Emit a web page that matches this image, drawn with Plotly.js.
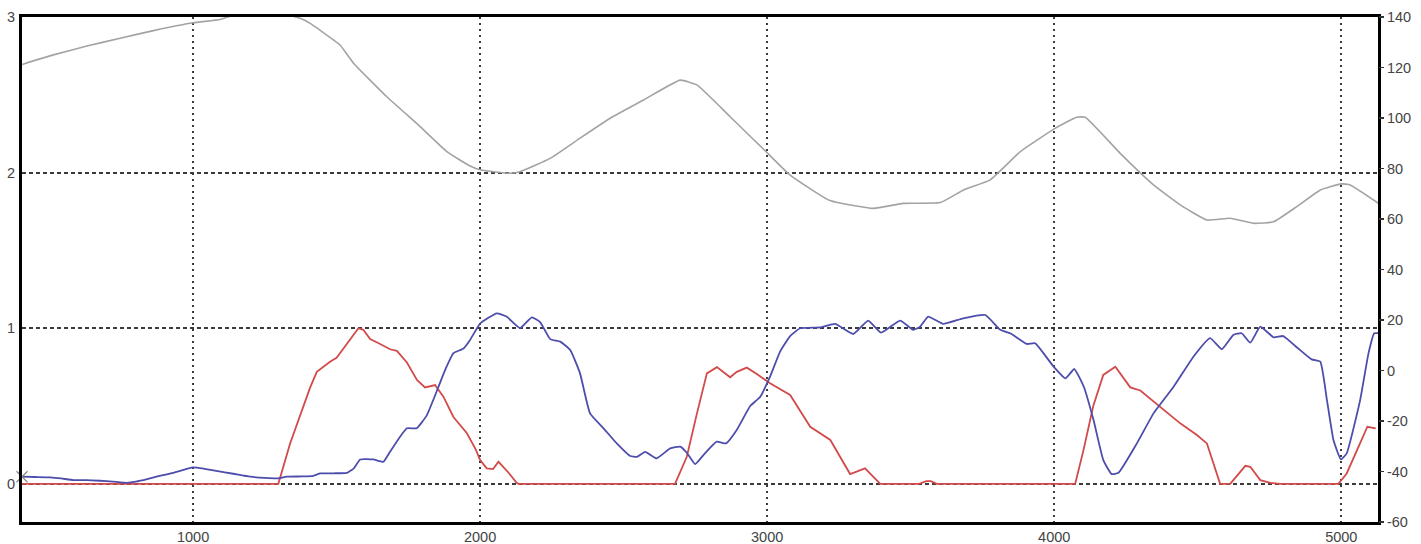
<!DOCTYPE html>
<html>
<head>
<meta charset="utf-8">
<script src="https://cdn.plot.ly/plotly-3.0.1.min.js"></script>
<style>html,body{margin:0;padding:0;background:#fff;}#chart{width:1421px;height:544px;}</style>
</head>
<body>
<div id="chart"></div>
<script>
// Red series (left axis)
const redX = [404, 1297, 1338, 1361, 1408, 1431, 1477, 1500, 1536, 1576, 1593, 1617, 1650, 1686, 1710, 1745, 1780, 1808, 1843, 1872, 1907, 1954, 1985, 2000, 2023, 2045, 2064, 2081, 2100, 2127, 2134, 2679, 2720, 2755, 2790, 2825, 2871, 2894, 2929, 2964, 3010, 3080, 3150, 3220, 3289, 3341, 3394, 3530, 3554, 3570, 3591, 4073, 4102, 4136, 4171, 4213, 4265, 4300, 4369, 4439, 4497, 4532, 4578, 4613, 4666, 4683, 4718, 4753, 4787, 4990, 5019, 5054, 5091, 5120];
const redY = [0, 0, 0.26, 0.38, 0.62, 0.72, 0.785, 0.81, 0.9, 1.0, 0.99, 0.93, 0.9, 0.865, 0.855, 0.78, 0.668, 0.62, 0.635, 0.56, 0.43, 0.325, 0.22, 0.153, 0.1, 0.095, 0.142, 0.11, 0.07, 0.007, 0, 0, 0.174, 0.45, 0.71, 0.75, 0.685, 0.72, 0.747, 0.706, 0.646, 0.571, 0.367, 0.282, 0.063, 0.1, 0, 0, 0.018, 0.018, 0, 0, 0.217, 0.5, 0.7, 0.753, 0.62, 0.6, 0.496, 0.389, 0.314, 0.26, 0, 0, 0.116, 0.11, 0.024, 0.007, 0, 0, 0.067, 0.217, 0.367, 0.357];

// Blue series (left axis)
const blueX = [404, 450, 502, 540, 583, 630, 676, 720, 769, 801, 840, 873, 930, 1000, 1040, 1081, 1140, 1199, 1250, 1292, 1326, 1380, 1419, 1443, 1490, 1536, 1560, 1582, 1628, 1663, 1686, 1720, 1745, 1779, 1814, 1855, 1880, 1907, 1942, 1965, 2000, 2058, 2092, 2139, 2180, 2209, 2244, 2279, 2314, 2348, 2383, 2430, 2476, 2523, 2546, 2575, 2615, 2662, 2697, 2720, 2749, 2778, 2824, 2857, 2894, 2941, 2976, 3010, 3045, 3080, 3115, 3185, 3237, 3300, 3352, 3397, 3463, 3509, 3533, 3561, 3613, 3683, 3760, 3812, 3847, 3905, 3934, 3998, 4039, 4070, 4103, 4137, 4171, 4200, 4224, 4288, 4346, 4416, 4485, 4543, 4584, 4624, 4653, 4683, 4718, 4764, 4798, 4845, 4897, 4927, 4950, 4973, 4999, 5019, 5066, 5095, 5115, 5130];
const blueY = [0.046, 0.044, 0.042, 0.035, 0.024, 0.024, 0.02, 0.015, 0.007, 0.014, 0.03, 0.046, 0.07, 0.106, 0.097, 0.084, 0.065, 0.046, 0.038, 0.035, 0.046, 0.048, 0.052, 0.067, 0.068, 0.071, 0.1, 0.157, 0.157, 0.142, 0.206, 0.3, 0.357, 0.357, 0.44, 0.624, 0.74, 0.84, 0.87, 0.925, 1.03, 1.096, 1.075, 1.0, 1.07, 1.04, 0.93, 0.914, 0.86, 0.71, 0.453, 0.357, 0.26, 0.179, 0.174, 0.206, 0.164, 0.228, 0.239, 0.2, 0.127, 0.185, 0.271, 0.26, 0.346, 0.5, 0.56, 0.689, 0.85, 0.95, 1.0, 1.006, 1.028, 0.963, 1.049, 0.972, 1.049, 0.99, 1.01, 1.075, 1.028, 1.064, 1.085, 0.99, 0.968, 0.899, 0.903, 0.753, 0.678, 0.738, 0.624, 0.41, 0.153, 0.063, 0.071, 0.26, 0.453, 0.624, 0.817, 0.936, 0.865, 0.957, 0.968, 0.907, 1.01, 0.942, 0.95, 0.878, 0.8, 0.785, 0.54, 0.28, 0.157, 0.196, 0.54, 0.84, 0.968, 0.968];

// Gray series (right axis)
const grayX = [404, 513, 630, 746, 862, 1000, 1094, 1129, 1233, 1338, 1373, 1408, 1489, 1512, 1559, 1675, 1791, 1884, 1965, 2003, 2105, 2139, 2244, 2348, 2453, 2569, 2697, 2755, 2871, 3002, 3080, 3219, 3370, 3474, 3603, 3684, 3777, 3882, 4003, 4078, 4108, 4230, 4346, 4439, 4532, 4613, 4694, 4764, 4845, 4927, 5000, 5031, 5130];
const grayY = [121.2, 125, 128.5, 131.6, 134.6, 137.7, 139, 140.3, 141, 140.5, 139.5, 137.5, 130.9, 128.9, 121.7, 108.4, 96.6, 86.7, 81, 79.4, 78.1, 78.7, 84, 92, 99.9, 107.1, 115, 113.1, 100.5, 86, 77.4, 67.3, 64.2, 66.2, 66.5, 71.5, 75.5, 86.7, 95.9, 100.3, 100.3, 86, 73.5, 65.6, 59.6, 60.3, 58.3, 58.9, 64.9, 71.5, 73.9, 73.5, 66.2];

// Tick labels
const xTicks = [1000, 2000, 3000, 4000, 5000];
const leftTicks = [0, 1, 2, 3];
const rightTicks = [-60, -40, -20, 0, 20, 40, 60, 80, 100, 120, 140];

const tickFont = {family: 'Liberation Sans, Arial, sans-serif', size: 14.5, color: '#444'};

const traces = [
  {x: redX, y: redY, type: 'scatter', mode: 'lines', line: {color: '#d24a4a', width: 1.8}, yaxis: 'y', hoverinfo: 'skip'},
  {x: blueX, y: blueY, type: 'scatter', mode: 'lines', line: {color: '#4d4dac', width: 1.8, shape: 'spline', smoothing: 0.4}, yaxis: 'y', hoverinfo: 'skip'},
  {x: grayX, y: grayY, type: 'scatter', mode: 'lines', line: {color: '#a3a3a3', width: 1.6, shape: 'spline', smoothing: 0.4}, yaxis: 'y2', hoverinfo: 'skip'},
  {x: [blueX[0]], y: [blueY[0]], type: 'scatter', mode: 'markers', marker: {symbol: 'x-thin', size: 11, line: {color: '#888', width: 1.2}}, cliponaxis: false, yaxis: 'y', hoverinfo: 'skip'}
];

const layout = {
  width: 1421, height: 544,
  margin: {l: 22, r: 43, t: 17, b: 22},
  paper_bgcolor: '#fff', plot_bgcolor: '#fff',
  showlegend: false,
  xaxis: {
    range: [404, 5128], tickvals: xTicks, ticktext: xTicks.map(String),
    showgrid: true, gridcolor: '#3a3a3a', gridwidth: 2, griddash: '2px,4px',
    zeroline: false, showline: true, linecolor: '#000', linewidth: 3, mirror: true,
    ticks: '', tickfont: tickFont, ticklabelstandoff: 0
  },
  yaxis: {
    range: [-0.245, 3.0], tickvals: leftTicks, ticktext: leftTicks.map(String),
    showgrid: true, gridcolor: '#3a3a3a', gridwidth: 2, griddash: '4px,3px',
    zeroline: false, showline: true, linecolor: '#000', linewidth: 3, mirror: true,
    ticks: '', tickfont: tickFont, ticklabelstandoff: 1
  },
  yaxis2: {
    range: [-60, 140], overlaying: 'y', side: 'right',
    tickvals: rightTicks, ticktext: rightTicks.map(String),
    showgrid: false, zeroline: false, showline: false,
    ticks: 'outside', ticklen: 5, tickwidth: 1.5, tickcolor: '#333',
    tickfont: tickFont
  }
};

Plotly.newPlot('chart', traces, layout, {staticPlot: true, displayModeBar: false});
</script>
</body>
</html>
